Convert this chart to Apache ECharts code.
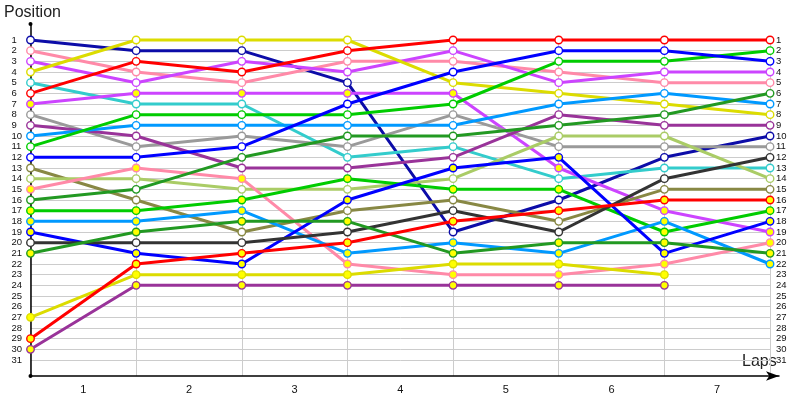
<!DOCTYPE html>
<html><head><meta charset="utf-8">
<script src="https://cdn.jsdelivr.net/npm/echarts@6/dist/echarts.min.js"></script>
<style>html,body{margin:0;padding:0;background:#fff}#c{width:800px;height:400px}</style>
</head><body><div id="c"></div>
<script>
// ---- data ----
const lapNums = [0, 1, 2, 3, 4, 5, 6, 7];
const lapLabels = ['1', '2', '3', '4', '5', '6', '7'];

const navy    = [1, 2, 2, 5, 19, 16, 12, 10];
const pinkA   = [2, 4, 5, 3, 3, 4, 5, 5];
const violetA = [3, 5, 3, 4, 2, 5, 4, 4];
const yellowA = [4, 1, 1, 1, 5, 6, 7, 8];
const cyan    = [5, 7, 7, 12, 11, 14, 13, 13];
const redA    = [6, 3, 4, 2, 1, 1, 1, 1];
const violetB = [7, 6, 6, 6, 6, 13, 17, 19];
const gray    = [8, 11, 10, 11, 8, 11, 11, 11];
const purpleA = [9, 10, 13, 13, 12, 8, 9, 9];
const skyA    = [10, 9, 9, 9, 9, 7, 6, 7];
const greenA  = [11, 8, 8, 8, 7, 3, 3, 2];
const blueA   = [12, 12, 11, 7, 4, 2, 2, 3];
const olive   = [13, 16, 19, 17, 16, 18, 15, 15];
const lime    = [14, 14, 15, 15, 14, 10, 10, 14];
const pinkB   = [15, 13, 14, 22, 23, 23, 22, 20];
const forestA = [16, 15, 12, 10, 10, 9, 8, 6];
const greenB  = [17, 17, 16, 14, 15, 15, 19, 17];
const skyB    = [18, 18, 17, 21, 20, 21, 18, 22];
const blueB   = [19, 21, 22, 16, 13, 12, 21, 18];
const black   = [20, 20, 20, 19, 17, 19, 14, 12];
const forestB = [21, 19, 18, 18, 21, 20, 20, 21];
const yellowB = [27, 23, 23, 23, 22, 22, 23];
const redB    = [29, 22, 21, 20, 18, 17, 16, 16];
const purpleB = [30, 24, 24, 24, 24, 24, 24];

// ---- styling ----
const W = '#ffffff', Y = '#ffff00';
const drivers = [
  [navy, '#0c0ca8', W], [pinkA, '#ff8aa8', W], [violetA, '#cc44ff', W], [yellowA, '#dcdc00', W],
  [cyan, '#33cccc', W], [redA, '#ff0000', W], [violetB, '#cc44ff', Y], [gray, '#9a9a9a', W],
  [purpleA, '#993399', W], [skyA, '#0099ff', W], [greenA, '#00cc00', W], [blueA, '#0000ff', W],
  [olive, '#888844', W], [lime, '#aacc66', W], [pinkB, '#ff8aa8', Y], [forestA, '#229922', W],
  [greenB, '#00cc00', Y], [skyB, '#0099ff', Y], [blueB, '#0000ff', Y], [black, '#333333', W],
  [forestB, '#229922', Y], [yellowB, '#dcdc00', Y], [redB, '#ff0000', Y], [purpleB, '#993399', Y]
];

const series = [];
drivers.forEach(([pos, color]) => {
  series.push({
    type: 'line', xAxisIndex: 0, yAxisIndex: 0, silent: true, symbol: 'none',
    data: pos.map((p, i) => [lapNums[i], p]),
    lineStyle: { color: color, width: 3 }, z: 3
  });
});
drivers.forEach(([pos, color, fill]) => {
  series.push({
    type: 'scatter', xAxisIndex: 0, yAxisIndex: 0, silent: true, symbol: 'circle', symbolSize: 7.5,
    data: pos.map((p, i) => [lapNums[i], p]),
    itemStyle: { color: fill, borderColor: color, borderWidth: 1.4, opacity: 1 }, z: 4
  });
});

const FONT = 'Liberation Sans';
const chart = echarts.init(document.getElementById('c'), null, { renderer: 'canvas' });
chart.setOption({
  animation: false,
  backgroundColor: '#ffffff',
  grid: [
    { left: 30.5, top: 24, width: 748.5, height: 352 },
    { left: 30.5, top: 40, width: 739.5, height: 320 },
    { left: 30.5, top: 40, width: 739.5, height: 336 }
  ],
  xAxis: [
    { gridIndex: 0, type: 'value', min: 0, max: 7.085, axisLine: { onZero: false, lineStyle: { color: '#000', width: 1.5 }, symbol: ['none', 'arrow'], symbolSize: [7, 13] },
      axisTick: { show: false }, axisLabel: { show: false }, splitLine: { show: false } },
    { gridIndex: 1, type: 'value', min: 0, max: 1, show: false },
    { gridIndex: 2, type: 'category', data: lapLabels, boundaryGap: true, axisLine: { show: false }, axisTick: { show: false },
      axisLabel: { color: '#111', fontSize: 11, fontFamily: FONT, margin: 8 },
      splitLine: { show: true, lineStyle: { color: '#cccccc', width: 1 } } }
  ],
  yAxis: [
    { gridIndex: 0, type: 'value', inverse: true, min: -0.5, max: 32.5,
      axisLine: { show: true, onZero: false, lineStyle: { color: '#000', width: 1.5 }, symbol: ['circle', 'circle'], symbolSize: [4, 4] },
      axisTick: { show: false }, axisLabel: { show: false }, splitLine: { show: false } },
    { gridIndex: 1, type: 'value', inverse: true, min: 1, max: 31, interval: 1, position: 'left',
      axisLine: { show: false }, axisTick: { show: false },
      axisLabel: { color: '#111', fontSize: 9.5, fontFamily: FONT, align: 'left', margin: 19 },
      splitLine: { show: true, lineStyle: { color: '#cccccc', width: 1 } } },
    { gridIndex: 1, type: 'value', inverse: true, min: 1, max: 31, interval: 1, position: 'right',
      axisLine: { show: false }, axisTick: { show: false },
      axisLabel: { color: '#111', fontSize: 9.5, fontFamily: FONT, margin: 6 },
      splitLine: { show: false } },
    { gridIndex: 2, type: 'value', min: 0, max: 1, show: false }
  ],
  graphic: [
    { type: 'text', left: 4, top: 5, style: { text: 'Position', font: '16px "Liberation Sans"', fill: '#222' } },
    { type: 'text', left: 742, top: 354, style: { text: 'Laps', font: '16px "Liberation Sans"', fill: '#222' } }
  ],
  series: series
});
</script>
</body></html>
